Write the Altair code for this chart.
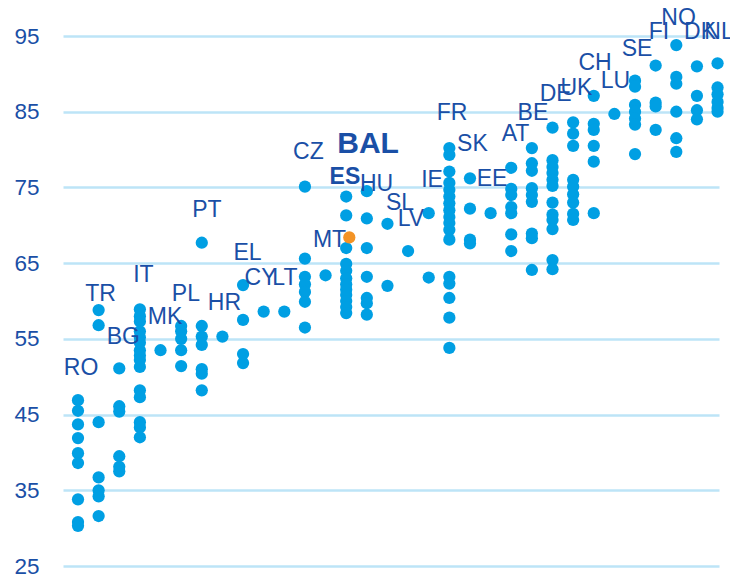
import altair as alt
import pandas as pd

countries = ["RO", "TR", "BG", "IT", "MK", "PL", "PT", "HR", "EL", "CY", "LT", "CZ",
             "MT", "ES", "HU", "SL", "LV", "IE", "FR", "SK", "EE", "AT", "BE", "DE",
             "UK", "CH", "LU", "SE", "FI", "NO", "DK", "NL"]

RO = [46.9, 45.5, 43.7, 41.9, 39.9, 38.6, 33.8, 30.8, 30.3]
TR = [58.8, 56.8, 44.0, 36.7, 35.0, 34.2, 31.6]
BG = [51.1, 46.1, 45.4, 39.5, 38.1, 37.5]
IT = [58.9, 58.0, 57.3, 56.0, 55.2, 54.5, 53.5, 52.8, 52.2, 51.3, 48.2, 47.3, 44.0, 43.3, 42.0]
MK = [53.5]
PL = [56.7, 56.0, 55.0, 53.5, 51.4]
PT = [67.7, 56.7, 55.3, 54.2, 51.0, 50.4, 48.2]
HR = [55.3]
EL = [62.1, 57.5, 53.0, 51.8]
CY = [58.6]
LT = [58.6]
CZ = [75.1, 65.6, 63.2, 62.2, 61.2, 59.9, 56.5]
MT = [63.4]
ES = [73.8, 71.3, 67.0, 64.9, 64.0, 63.0, 62.2, 61.5, 60.8, 60.0, 59.2, 58.4]
HU = [74.5, 70.9, 67.0, 63.2, 60.4, 59.7, 58.2]
SL = [70.2, 62.0]
LV = [66.6]
IE = [71.6, 63.1]
FR = [80.2, 79.3, 77.1, 75.6, 74.7, 73.8, 72.9, 72.0, 71.1, 70.3, 69.4, 68.1, 63.2, 62.3, 60.4, 57.8, 53.8]
SK = [76.2, 72.2, 68.1, 67.6]
EE = [71.6]
AT = [77.6, 74.8, 74.0, 72.4, 71.6, 68.8, 66.6]
BE = [80.2, 78.2, 77.2, 74.9, 74.0, 73.1, 68.9, 68.3, 64.1]
DE = [82.9, 78.6, 77.7, 76.9, 76.0, 75.2, 73.0, 71.4, 70.7, 69.5, 65.4, 64.2]
UK = [83.6, 82.1, 80.5, 76.0, 75.1, 74.1, 73.0, 71.5, 70.7]
CH = [87.1, 83.4, 82.6, 80.5, 78.4, 71.6]
LU = [84.7]
SE = [89.1, 88.3, 85.9, 85.0, 84.1, 83.3, 79.4]
FI = [91.1, 86.2, 85.7, 82.6]
NO = [93.8, 89.6, 88.7, 85.0, 81.5, 79.7]
DK = [91.0, 87.1, 85.2, 84.0]
NL = [91.4, 88.2, 87.3, 86.3, 85.5, 85.0]

series = [RO, TR, BG, IT, MK, PL, PT, HR, EL, CY, LT, CZ, MT, ES, HU, SL, LV, IE,
          FR, SK, EE, AT, BE, DE, UK, CH, LU, SE, FI, NO, DK, NL]

# Balearic Islands highlighted point (placed next to the ES column)
bal_value = 68.4
bal_x = 13.15

# Country label positions (column index offset, value level)
label_shift = [0.15, 0.09, 0.2, 0.17, 0.22, 0.23, 0.25, 0.1, 0.22, -0.15, 0.03, 0.17,
               0.19, -0.06, 0.47, 0.61, 0.14, 0.16, 0.13, 0.12, 0.07, 0.21, 0.05, 0.15,
               0.16, 0.06, 0.05, 0.1, 0.16, 0.11, 0.15, 0.07]
label_y = [51.1, 60.9, 55.3, 63.4, 57.95, 60.9, 72.0, 59.7, 66.3, 63.0, 63.0, 79.7,
           68.1, 76.4, 75.4, 72.9, 70.8, 76.0, 84.8, 80.7, 76.1, 82.0, 84.8, 87.3,
           88.1, 91.5, 89.1, 93.35, 95.5, 97.4, 95.5, 95.5]
bal_label = "BAL"
bal_label_x = 14.06
bal_label_y = 80.7

y_ticks = [25, 35, 45, 55, 65, 75, 85, 95]

rows = []
for i, (c, vals) in enumerate(zip(countries, series)):
    for v in vals:
        rows.append({"x": i, "country": c, "value": v})
pts = pd.DataFrame(rows)

lab = pd.DataFrame({
    "x": [i + s for i, s in enumerate(label_shift)],
    "value": label_y,
    "country": countries,
    "bold": [c == "ES" for c in countries],
})
bal_pt = pd.DataFrame({"x": [bal_x], "value": [bal_value]})
bal_lab = pd.DataFrame({"x": [bal_label_x], "value": [bal_label_y], "label": [bal_label]})

FONT = "Liberation Sans"
LABEL_COLOR = "#1A4FA6"
DOT = "#009FE3"

xs = alt.Scale(domain=[-0.727, 31.07], nice=False, zero=False)
ys = alt.Scale(domain=[25, 98.7], nice=False, zero=False)

yaxis = alt.Axis(values=y_ticks, grid=True, gridColor="#BDE4F7", gridWidth=2.5,
                 domain=False, ticks=False, labelPadding=24, labelFont=FONT,
                 labelFontSize=22.5, labelColor=LABEL_COLOR, title=None)

points = alt.Chart(pts).mark_circle(size=150, color=DOT, opacity=1).encode(
    x=alt.X("x:Q", scale=xs, axis=None),
    y=alt.Y("value:Q", scale=ys, axis=yaxis),
)

orange = alt.Chart(bal_pt).mark_circle(size=150, color="#F39325", opacity=1).encode(
    x=alt.X("x:Q", scale=xs, axis=None),
    y=alt.Y("value:Q", scale=ys),
)

labels_reg = alt.Chart(lab[~lab["bold"]]).mark_text(
    font=FONT, fontSize=23, color=LABEL_COLOR, align="center", baseline="middle"
).encode(
    x=alt.X("x:Q", scale=xs, axis=None),
    y=alt.Y("value:Q", scale=ys),
    text="country:N",
)

labels_bold = alt.Chart(lab[lab["bold"]]).mark_text(
    font=FONT, fontSize=23, fontWeight="bold", color=LABEL_COLOR, align="center", baseline="middle"
).encode(
    x=alt.X("x:Q", scale=xs, axis=None),
    y=alt.Y("value:Q", scale=ys),
    text="country:N",
)

bal_text = alt.Chart(bal_lab).mark_text(
    font=FONT, fontSize=30, fontWeight="bold", color=LABEL_COLOR, align="center", baseline="middle"
).encode(
    x=alt.X("x:Q", scale=xs, axis=None),
    y=alt.Y("value:Q", scale=ys),
    text="label:N",
)

chart = alt.layer(points, orange, labels_reg, labels_bold, bal_text).properties(
    width=656, height=558,
    padding={"left": 55, "top": 0, "right": 11, "bottom": 8},
    autosize=alt.AutoSizeParams(type="none"),
).configure_view(stroke=None)

chart.save("out.html", embed_options={"renderer": "svg", "actions": False})
